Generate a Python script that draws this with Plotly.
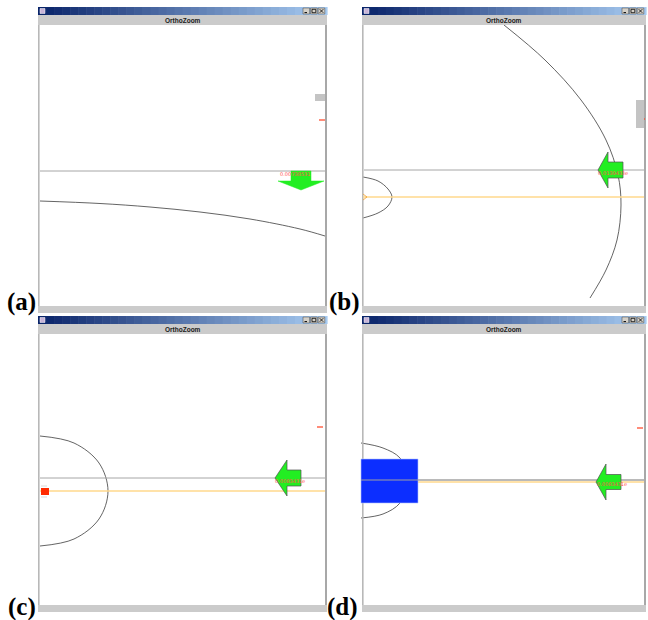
import plotly.graph_objects as go

# ---------------- data ----------------
panel_labels = ["(a)", "(b)", "(c)", "(d)"]
window_title = "OrthoZoom"
readout_text = ["0.00738531", "0.0139433e", "0.0083431e", "0.0083431e"]

curve_a_x = [40, 100, 150, 200, 250, 300, 325]
curve_a_y = [201, 203.5, 207, 212, 219, 229, 236]
curve_b_x = [504, 545, 581, 606, 618, 621, 617, 606, 590]
curve_b_y = [25, 60, 100, 140, 175, 205, 240, 270, 298]
small_arc_b_x = [363, 378, 388, 392, 388, 378, 363]
small_arc_b_y = [177, 181, 189, 197, 206, 213, 218]
arc_c_x = [40, 74, 99, 108, 99, 74, 40]
arc_c_y = [436, 443, 463, 491, 519, 539, 546]
arc_d_x = [361, 383, 400, 409, 400, 383, 361]
arc_d_y = [443, 448, 458, 480, 503, 514, 518]

# ---------------- layout geometry ----------------
W, H = 648, 620
windows = [
    dict(l=38, r=327, t=7, b=313),
    dict(l=362, r=646, t=7, b=313),
    dict(l=38, r=327, t=316, b=612),
    dict(l=362, r=646, t=316, b=612),
]
label_pos = [(21, 302), (344, 302), (22, 607), (342, 607)]
gray_line_y = [171, 170, 478, 480]
yellow_line = [None, (363, 197), (40, 491), (362, 482)]
red_tick = [(319, 120), (639, 119), (317, 427), (637, 428)]
# left-pointing arrows: tip x, tip y, head base x, head half height, shaft end x, shaft half height
left_arrows = [None, (598, 170, 608, 18, 623, 8), (275, 478, 287, 18, 301, 8), (596, 482, 606, 18, 621, 7.5)]
# down arrow for (a): tip x, tip y, head base y, head half width, shaft top y, shaft half width
down_arrow = (301, 190, 181, 23, 171, 10)
readout_pos = [(295, 174), (613, 173), (290, 481), (612, 484)]

TITLE_H, HEADER_H, BOTTOM_H = 8, 10, 7
GRAY = "#cbcbcb"
GREEN = "#22ee22"

shapes = []
annotations = []


def rect(x0, y0, x1, y1, fill, line=None, lw=0, layer="above"):
    shapes.append(dict(type="rect", x0=x0, y0=y0, x1=x1, y1=y1, xref="x", yref="y",
                       fillcolor=fill, line=dict(color=line or fill, width=lw), layer=layer))


def line(x0, y0, x1, y1, color, width=1):
    shapes.append(dict(type="line", x0=x0, y0=y0, x1=x1, y1=y1, xref="x", yref="y",
                       line=dict(color=color, width=width), layer="above"))


c0 = (10, 36, 106)
c1 = (166, 202, 240)
N = 36
for i, w in enumerate(windows):
    l, r, t, b = w["l"], w["r"], w["t"], w["b"]
    # title-bar gradient
    seg = (r - l) / N
    for k in range(N):
        f = k / (N - 1)
        col = "rgb(%d,%d,%d)" % tuple(round(c0[j] + (c1[j] - c0[j]) * f) for j in range(3))
        rect(l + k * seg, t, l + (k + 1) * seg + 0.6, t + TITLE_H, col)
    # icon
    rect(l + 2, t + 1.5, l + 7, t + 6.5, "#c8b4d8", "#ffffff", 0.5)
    # buttons
    for bi in range(3):
        bx0 = r - 24 + bi * 7.6
        rect(bx0, t + 1, bx0 + 6.6, t + 7, "#d4d0c8", "#404040", 0.5)
    bx = r - 24
    line(bx + 1.5, t + 5.6, bx + 4, t + 5.6, "#000000", 1)
    rect(bx + 7.6 + 1.4, t + 2.3, bx + 7.6 + 5.2, t + 5.7, "rgba(0,0,0,0)", "#000000", 0.8)
    line(bx + 15.2 + 1.5, t + 2.2, bx + 15.2 + 5.1, t + 5.8, "#000000", 0.8)
    line(bx + 15.2 + 1.5, t + 5.8, bx + 15.2 + 5.1, t + 2.2, "#000000", 0.8)
    # header band
    rect(l, t + TITLE_H, r, t + TITLE_H + HEADER_H, GRAY)
    annotations.append(dict(x=(l + r) / 2, y=t + TITLE_H + HEADER_H / 2 + 0.5, text="<b>%s</b>" % window_title,
                            showarrow=False, xref="x", yref="y",
                            font=dict(family="Liberation Sans, Arial", size=6.5, color="#202020")))
    # bottom bar
    rect(l, b - BOTTOM_H, r, b, GRAY)
    # borders of the drawing area
    line(l + 0.8, t + TITLE_H + HEADER_H, l + 0.8, b - BOTTOM_H, "#b8b8b8", 1.6)
    line(r - 1, t + TITLE_H + HEADER_H, r - 1, b - BOTTOM_H, "#a8a8a8", 2)
    # gray horizontal reference line
    line(l + 2, gray_line_y[i], r - 2, gray_line_y[i], "#a6a6a6", 1)
    # yellow line
    if yellow_line[i] is not None:
        yx, yy = yellow_line[i]
        line(yx, yy, r - 2, yy, "#ffd98c", 1.4)
    # red tick at right edge
    tx, ty = red_tick[i]
    line(tx, ty, tx + 6, ty, "#ff4020", 1.2)
    # panel label
    lx, ly = label_pos[i]
    annotations.append(dict(x=lx, y=ly, text="<b>%s</b>" % panel_labels[i], showarrow=False,
                            xref="x", yref="y",
                            font=dict(family="Liberation Serif, Times New Roman", size=25, color="#000000")))

# scroll thumbs
rect(315, 94, 325, 101, "#c4c4c4")
rect(636, 100, 644, 128, "#c4c4c4")

# blue rectangle in (d) and red marker in (c)
blue_rect = (361, 459, 418, 503)
red_marker = (41, 488, 49, 495)

fig = go.Figure()

curves = [(curve_a_x, curve_a_y), (curve_b_x, curve_b_y), (small_arc_b_x, small_arc_b_y),
          (arc_c_x, arc_c_y), (arc_d_x, arc_d_y)]
for cx, cy in curves:
    fig.add_trace(go.Scatter(x=cx, y=cy, mode="lines", line=dict(color="#3c3c3c", width=0.8, shape="spline"),
                             hoverinfo="skip", showlegend=False))

# (d) blue rect drawn after the arc, with the lines over it
rect(*blue_rect, "#0c2eff", "#b0c0ff", 0.6)
line(361, gray_line_y[3], 644, gray_line_y[3], "#a0a0a0", 1)
rect(*red_marker, "#ff2a00")
line(41, 486, 47, 486, "#c0c0c0", 0.6)
line(41, 497, 47, 497, "#c0c0c0", 0.6)
# small orange marker in (b)
shapes.append(dict(type="path", path="M 363 194 L 367 197 L 363 200", xref="x", yref="y",
                   line=dict(color="#f0a030", width=0.8), layer="above"))

# arrows
for i, a in enumerate(left_arrows):
    if a is None:
        continue
    tipx, tipy, hx, hh, sx, sh = a
    p = "M %g %g L %g %g L %g %g L %g %g L %g %g L %g %g L %g %g Z" % (
        tipx, tipy, hx, tipy - hh, hx, tipy - sh, sx, tipy - sh, sx, tipy + sh, hx, tipy + sh, hx, tipy + hh)
    shapes.append(dict(type="path", path=p, xref="x", yref="y", fillcolor=GREEN,
                       line=dict(color="#505050", width=0.7), layer="above"))
tipx, tipy, hy, hw, sy, sw = down_arrow
p = "M %g %g L %g %g L %g %g L %g %g L %g %g L %g %g L %g %g Z" % (
    tipx, tipy, tipx - hw, hy, tipx - sw, hy, tipx - sw, sy, tipx + sw, sy, tipx + sw, hy, tipx + hw, hy)
shapes.append(dict(type="path", path=p, xref="x", yref="y", fillcolor=GREEN,
                   line=dict(color=GREEN, width=0.5), layer="above"))

for i, (rx, ry) in enumerate(readout_pos):
    annotations.append(dict(x=rx, y=ry, text=readout_text[i], showarrow=False, xref="x", yref="y",
                            font=dict(family="DejaVu Sans", size=5, color="#ff5050")))

fig.update_layout(
    width=W, height=H, margin=dict(l=0, r=0, t=0, b=0, pad=0),
    paper_bgcolor="white", plot_bgcolor="white",
    xaxis=dict(range=[0, W], visible=False, fixedrange=True),
    yaxis=dict(range=[H, 0], visible=False, fixedrange=True),
    shapes=shapes, annotations=annotations, showlegend=False,
)
# remove the browser's default body margin so that data coordinates equal page pixels
fig.write_html("out.html", config={"displayModeBar": False},
               post_script="document.body.style.margin='0';document.body.style.overflow='hidden';")
